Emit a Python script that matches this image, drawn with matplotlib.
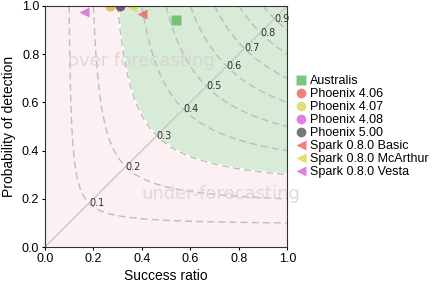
import matplotlib
matplotlib.use("Agg")
import matplotlib.pyplot as plt
import numpy as np

plt.rcParams['font.family'] = ['Liberation Sans', 'DejaVu Sans']

names = ["Australis", "Phoenix 4.06", "Phoenix 4.07", "Phoenix 4.08", "Phoenix 5.00",
         "Spark 0.8.0 Basic", "Spark 0.8.0 McArthur", "Spark 0.8.0 Vesta"]
success_ratio = [0.54, 0.27, 0.27, 0.31, 0.31, 0.40, 0.36, 0.16]
pod = [0.94, 1.0, 1.0, 1.0, 1.0, 0.965, 0.995, 0.975]
colors = ["#5cb85c", "#f06060", "#d8d850", "#d860d8", "#555555", "#f06060", "#d8d850", "#d860d8"]
markers = ["s", "o", "o", "o", "o", "<", "<", "<"]
csi_levels = [0.1, 0.2, 0.3, 0.4, 0.5, 0.6, 0.7, 0.8, 0.9]

fig = plt.figure(figsize=(4.32, 2.83), dpi=100)
ax = fig.add_axes([0.104, 0.127, 0.561, 0.852])

sr = np.linspace(0.001, 1, 400)
pd_ = np.linspace(0.001, 1, 400)
SR, PD = np.meshgrid(sr, pd_)
CSI = 1.0 / (1.0 / SR + 1.0 / PD - 1.0)

ax.contourf(SR, PD, CSI, levels=[0, 0.3, 1.01], colors=["#fdf0f2", "#d7ebd6"])
ax.contour(SR, PD, CSI, levels=[0.3], colors="white", linewidths=1.5)
ax.contour(SR, PD, CSI, levels=csi_levels, colors="#bdbdbd", linestyles=[(0, (5, 3))],
           linewidths=1.0)
ax.plot([0, 1], [0, 1], color="#c8c8c8", lw=1.0)

for c in csi_levels:
    x = 2 * c / (1 + c)
    ax.text(x, x, "%.1f" % c, fontsize=7, family="DejaVu Sans", color="#333333",
            ha="left", va="center")

ax.text(0.095, 0.77, "over forecasting", fontsize=13, family="DejaVu Sans",
        color="#d8d0d0", alpha=0.75, va="center")
ax.text(0.40, 0.22, "under-forecasting", fontsize=13, family="DejaVu Sans",
        color="#d8d0d0", alpha=0.75, va="center", clip_on=False)

for i in range(len(names)):
    ax.plot(success_ratio[i], pod[i], marker=markers[i], color=colors[i], ls="none",
            ms=7, alpha=0.8, label=names[i], mec="none")

ax.set_xlim(0, 1)
ax.set_ylim(0, 1)
ax.set_xticks(np.arange(0, 1.01, 0.2))
ax.set_yticks(np.arange(0, 1.01, 0.2))
ax.tick_params(labelsize=9, length=2, pad=2)
for s in ax.spines.values():
    s.set_color("#333333")
ax.set_xlabel("Success ratio", fontsize=10, labelpad=3)
ax.set_ylabel("Probability of detection", fontsize=10, labelpad=4)

ax.legend(loc="center left", bbox_to_anchor=(1.0, 0.5), frameon=False, fontsize=9,
          handletextpad=0.2, borderaxespad=0.2, labelspacing=0.08, handlelength=1.0)

fig.savefig("out.png", dpi=100)
